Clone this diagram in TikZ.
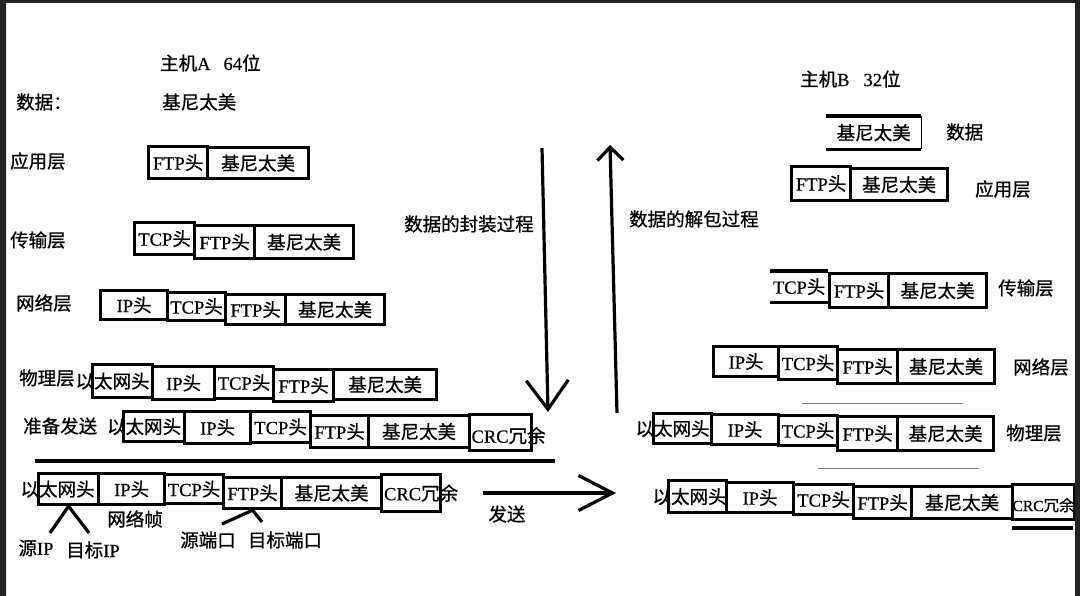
\documentclass[tikz,border=0pt]{standalone}
\usepackage{fontspec}
\setmainfont{Noto Sans CJK SC}[FakeBold=0.8]
\newfontfamily\latf{Liberation Serif}[FakeBold=0.5]
\newcommand\la[1]{{\latf #1}}
\usetikzlibrary{arrows.meta}

\begin{document}
\begin{tikzpicture}[x=1pt,y=-1pt,
  every node/.style={font=\fontsize{18.5}{20}\selectfont},
  cell/.style 2 args={draw, line width=3.2pt, inner sep=0, anchor=north west, minimum width=#1, minimum height=#2},
  open/.style 2 args={inner sep=0, anchor=north west, minimum width=#1, minimum height=#2},
  lbl/.style={anchor=west, inner sep=0},
  heavy/.style={line width=3.2pt}]
\useasboundingbox (0,0) rectangle (1080,596);

% host A
\node[lbl] (hostA) at (160,63) {主机\la{A}\hspace{13pt}\la{64}位};
\node[lbl] (dataA) at (16,102) {数据：};
\node[lbl] (rawA) at (162,102) {基尼太美};
\node[lbl] (appA) at (10,161) {应用层};
\node[lbl] (trA) at (10,240) {传输层};
\node[lbl] (netA) at (16,303) {网络层};
\node[lbl] (phyA) at (19,378) {物理层};
\node[lbl] (prepA) at (23,426) {准备发送};

\node[cell={59}{32}] (a1) at (147,145) {\la{FTP}头};
\node[cell={101}{31}] (a2) at (206,146) {基尼太美};

\node[cell={60}{32}] (t1) at (133,221) {\la{TCP}头};
\node[cell={60}{33}] (t2) at (193,224) {\la{FTP}头};
\node[cell={99}{33}] (t3) at (253,224) {基尼太美};

\node[cell={67}{29}] (n1) at (99,289) {\la{IP}头};
\node[cell={58}{28}] (n2) at (166,291) {\la{TCP}头};
\node[cell={60}{30}] (n3) at (224,293) {\la{FTP}头};
\node[cell={99}{30}] (n4) at (284,293) {基尼太美};

\node[cell={60}{33}, label={[xshift=-10]center:以太网头}] (p1) at (91,363) {};
\node[cell={62}{33}] (p2) at (151,365) {\la{IP}头};
\node[cell={59}{32}] (p3) at (213,365) {\la{TCP}头};
\node[cell={60}{32}] (p4) at (272,368) {\la{FTP}头};
\node[cell={103}{30}] (p5) at (332,368) {基尼太美};

\node[cell={61}{30}, label={[xshift=-10]center:以太网头}] (r1) at (122,410) {};
\node[cell={66}{32}] (r2) at (183,410) {\la{IP}头};
\node[cell={60}{31}] (r3) at (249,410) {\la{TCP}头};
\node[cell={58}{32}] (r4) at (309,414) {\la{FTP}头};
\node[cell={101}{32}] (r5) at (367,414) {基尼太美};
\node[cell={62}{36}, label={[xshift=8,yshift=-3]center:\la{CRC}冗余}] (r6) at (468,413) {};

\draw[heavy] (35,461) -- (555,461);

\node[cell={60}{31}, label={[xshift=-11]center:以太网头}] (s1) at (37,472) {};
\node[cell={66}{31}] (s2) at (97,472) {\la{IP}头};
\node[cell={59}{29}] (s3) at (163,473) {\la{TCP}头};
\node[cell={58}{31}] (s4) at (222,476) {\la{FTP}头};
\node[cell={100}{31}] (s5) at (280,476) {基尼太美};
\node[cell={59}{37}, label={[xshift=10]center:\la{CRC}冗余}] (s6) at (380,473) {};

\node (frame) at (135,519) {网络帧};
\node (srcip) at (36,548) {源\la{IP}};
\node (dstip) at (93,550) {目标\la{IP}};
\node (srcport) at (208,540) {源端口};
\node (dstport) at (285,540) {目标端口};
\coordinate (ipL) at (50,533); \coordinate (ipR) at (89,533);
\coordinate (ptL) at (222,524); \coordinate (ptR) at (262,522);
\draw[heavy] (ipL) -- (s1.south) -- (ipR);
\draw[heavy] (ptL) -- (s4.south) -- (ptR);

% arrows
\coordinate (encTop) at (542,148); \coordinate (encBot) at (548,412);
\draw[heavy, -{Straight Barb[length=29pt,width=42pt]}] (encTop) -- (encBot);
\node[lbl] (enc) at (404,224) {数据的封装过程};
\coordinate (decBot) at (617,413); \coordinate (decTop) at (610,145);
\draw[heavy, -{Straight Barb[length=13pt,width=26pt]}] (decBot) -- (decTop);
\node[lbl] (dec) at (629,219) {数据的解包过程};
\coordinate (sendL) at (483,493); \coordinate (sendR) at (616,493);
\draw[heavy, -{Straight Barb[length=34pt,width=35pt]}] (sendL) -- (sendR);
\node (send) at (507,514) {发送};

% host B
\node[lbl] (hostB) at (800,79) {主机\la{B}\hspace{14pt}\la{32}位};
\node[lbl] (dataB) at (946,132) {数据};
\node[lbl] (appB) at (975,189) {应用层};
\node[lbl] (trB) at (998,288) {传输层};
\node[lbl] (netB) at (1013,367) {网络层};
\node[lbl] (phyB) at (1006,433) {物理层};

\node[open={95}{33}] (b0) at (826,116) {基尼太美};
\draw[line width=3.2pt] (b0.north west) -- (b0.north east) (b0.south west) -- (b0.south east);
\draw[line width=1pt] (b0.north east) -- (b0.south east);

\node[cell={59}{34}] (b1) at (790,165) {\la{FTP}头};
\node[cell={97}{32}] (b2) at (849,167) {基尼太美};

\node[open={58}{31}] (c1) at (770,271) {\la{TCP}头};
\draw[line width=3.2pt] (c1.north west) -- (c1.north east) (c1.south west) -- (c1.south east);
\node[cell={59}{34}] (c2) at (828,272) {\la{FTP}头};
\node[cell={98}{34}] (c3) at (887,272) {基尼太美};

\node[cell={65}{30}] (d1) at (712,345) {\la{IP}头};
\node[cell={59}{33}] (d2) at (777,345) {\la{TCP}头};
\node[cell={60}{34}] (d3) at (836,348) {\la{FTP}头};
\node[cell={97}{34}] (d4) at (896,348) {基尼太美};

\draw[gray, line width=1pt] (802,403) -- (963,403);

\node[cell={58}{30}, label={[xshift=-10]center:以太网头}] (e1) at (652,412) {};
\node[cell={67}{30}] (e2) at (710,413) {\la{IP}头};
\node[cell={59}{30}] (e3) at (777,414) {\la{TCP}头};
\node[cell={60}{34}] (e4) at (836,415) {\la{FTP}头};
\node[cell={96}{34}] (e5) at (896,415) {基尼太美};

\draw[gray, line width=1pt] (818,468) -- (979,468);

\node[cell={58}{32}, label={[xshift=-8]center:以太网头}] (f1) at (667,479) {};
\node[cell={67}{30}] (f2) at (725,481) {\la{IP}头};
\node[cell={60}{30}] (f3) at (792,483) {\la{TCP}头};
\node[cell={58}{32}] (f4) at (852,485) {\la{FTP}头};
\node[cell={101}{32}] (f5) at (910,485) {基尼太美};
\node[cell={62}{35}, label={[xshift=0,yshift=-3, font=\fontsize{15.5}{18}\selectfont]center:\la{CRC}冗余}] (f6) at (1011,483) {};
\draw[heavy] (1012,528) -- (1073,528);

% frame of the screenshot
\fill[black!86] (0,0) rectangle (6,596) (0,0) rectangle (1080,3) (1075,0) rectangle (1080,596);
\end{tikzpicture}
\end{document}
